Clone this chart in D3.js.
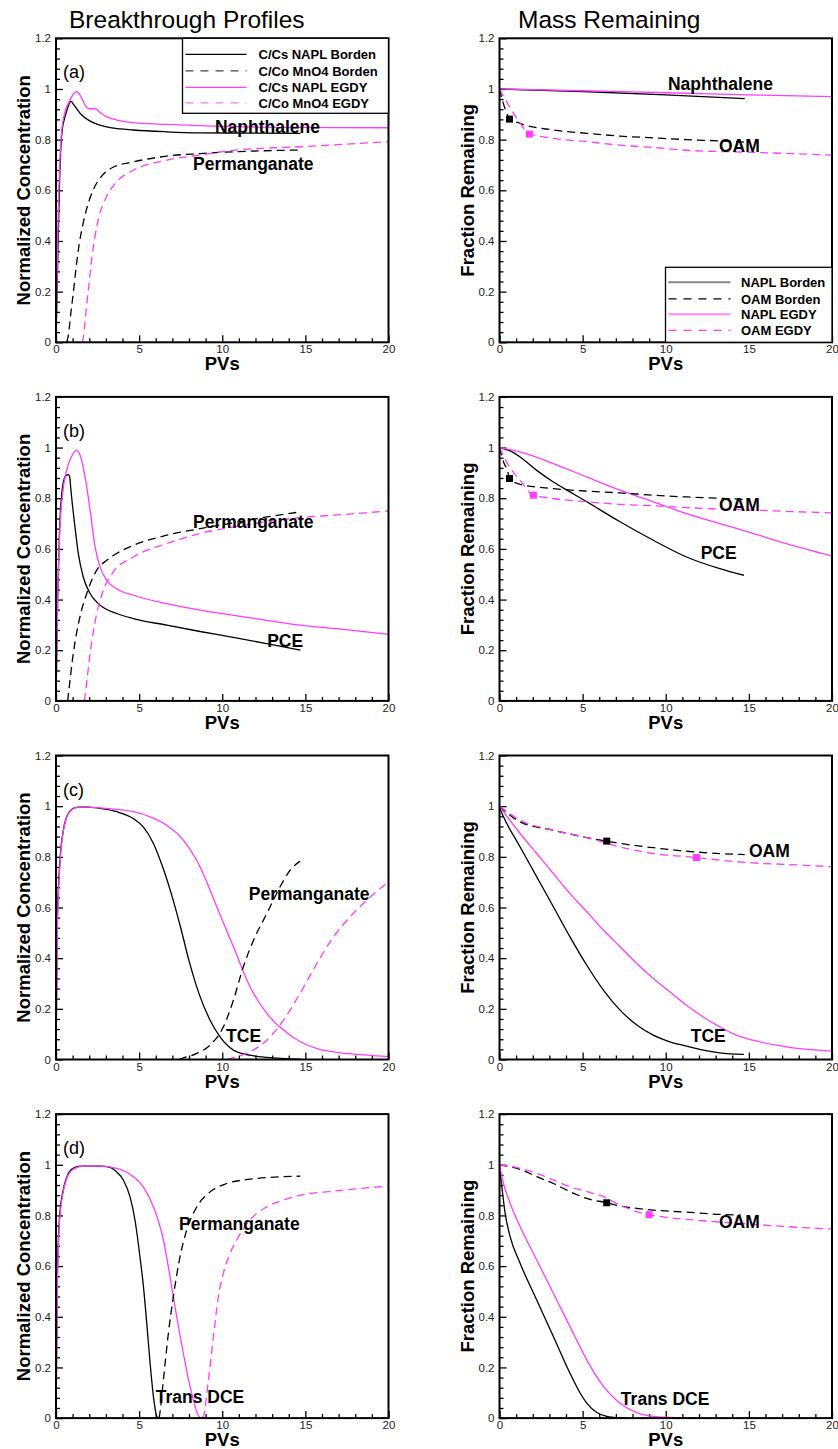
<!DOCTYPE html>
<html>
<head>
<meta charset="utf-8">
<script src="https://cdn.jsdelivr.net/npm/d3@7"></script>
<style>
body { margin: 0; background: #fff; }
svg { font-family: "Liberation Sans", Arial, sans-serif; }
</style>
</head>
<body>
<script>
// Tick values
var pvMajor = [0, 5, 10, 15, 20];
var yMajor = [0, 0.2, 0.4, 0.6, 0.8, 1, 1.2];

// Column titles and legend labels
var columnTitles = ["Breakthrough Profiles", "Mass Remaining"];
var panelLetters = ["(a)", "(b)", "(c)", "(d)"];
var legendBreak = ["C/Cs NAPL Borden", "C/Co MnO4 Borden", "C/Cs NAPL EGDY", "C/Co MnO4 EGDY"];
var legendMass = ["NAPL Borden", "OAM Borden", "NAPL EGDY", "OAM EGDY"];

// (a) Naphthalene - breakthrough [PV, C/C0]
var aNaplBorden = [[0,0],[0.1,0.3],[0.2,0.6],[0.3,0.78],[0.4,0.85],[0.5,0.88],[0.7,0.925],[0.9,0.951],[1.1,0.935],[1.5,0.9],[2,0.875],[2.65,0.857],[3.5,0.845],[4.65,0.838],[6.66,0.831],[8.67,0.827],[11,0.826],[14.7,0.825]];
var aNaplEgdy = [[0,0],[0.1,0.4],[0.3,0.8],[0.5,0.9],[0.8,0.95],[1.05,0.98],[1.24,0.989],[1.5,0.97],[1.8,0.93],[2.0,0.922],[2.35,0.922],[2.7,0.905],[3.05,0.89],[4.65,0.867],[6.66,0.86],[8.67,0.855],[10.67,0.851],[15,0.848],[20,0.847]];
var aOxBorden = [[0.65,0],[0.75,0.03],[0.9,0.12],[1.05,0.2],[1.2,0.29],[1.4,0.39],[1.6,0.46],[1.9,0.54],[2.3,0.61],[2.8,0.66],[3.4,0.69],[4.65,0.712],[6.66,0.735],[8.67,0.745],[10.67,0.752],[14.7,0.759]];
var aOxEgdy = [[1.6,0],[1.7,0.05],[1.85,0.15],[2.0,0.24],[2.15,0.33],[2.35,0.42],[2.6,0.5],[3.0,0.57],[3.6,0.63],[4.65,0.679],[6.66,0.719],[8.67,0.739],[10.67,0.758],[14.7,0.772],[20,0.792]];
// (a) mass remaining
var aMassNaplB = [[0,1],[5,0.99],[10,0.977],[14.75,0.962]];
var aMassNaplE = [[0,1],[5,0.993],[10,0.985],[15,0.977],[20,0.97]];
var aMassOamB = [[0,1],[0.2,0.95],[0.4,0.91],[0.6,0.884],[1.24,0.864],[3.24,0.838],[5.25,0.825],[7.25,0.814],[9.25,0.807],[11.25,0.8],[13.25,0.795],[14.75,0.79]];
var aMassOamE = [[0,1],[0.54,0.937],[1.04,0.884],[1.8,0.824],[3.24,0.805],[5.25,0.792],[7.25,0.778],[9.25,0.769],[11.25,0.758],[15.25,0.75],[20,0.739]];
var aMarks = [[0.6,0.881],[1.8,0.822]];

// (b) PCE
var bNaplBorden = [[0,0],[0.1,0.4],[0.2,0.65],[0.35,0.82],[0.55,0.885],[0.74,0.893],[0.82,0.885],[0.9,0.83],[1.14,0.687],[1.34,0.582],[1.64,0.489],[2.05,0.424],[2.65,0.378],[3.65,0.345],[4.65,0.325],[6.66,0.299],[8.67,0.274],[10.67,0.251],[12.68,0.226],[14.7,0.2]];
var bNaplEgdy = [[0,0],[0.1,0.4],[0.25,0.7],[0.4,0.82],[0.6,0.9],[0.9,0.96],[1.24,0.989],[1.5,0.96],[1.75,0.884],[2.05,0.753],[2.35,0.608],[2.65,0.529],[3.05,0.476],[3.65,0.443],[4.65,0.417],[6.66,0.384],[8.67,0.358],[10.67,0.338],[12.68,0.318],[14.7,0.299],[16.7,0.286],[20,0.263]];
var bOxBorden = [[0.7,0],[0.74,0.022],[1.04,0.187],[1.44,0.332],[1.85,0.424],[2.45,0.516],[3.05,0.555],[3.65,0.582],[4.65,0.614],[6.66,0.654],[8.67,0.68],[10.67,0.703],[12.68,0.726],[14.7,0.746]];
var bOxEgdy = [[1.7,0],[1.75,0.022],[2.05,0.187],[2.45,0.345],[2.85,0.437],[3.45,0.509],[4.65,0.568],[6.66,0.621],[8.67,0.661],[10.67,0.687],[12.68,0.707],[14.7,0.724],[16.7,0.733],[20,0.75]];
var bMassNaplB = [[0,1],[0.64,0.987],[1.24,0.963],[2.24,0.91],[3.24,0.864],[4.24,0.825],[5.25,0.786],[7.25,0.707],[9.25,0.634],[11.25,0.568],[13.25,0.522],[14.7,0.496]];
var bMassNaplE = [[0,1],[1.24,0.983],[3.24,0.937],[5.25,0.884],[7.25,0.832],[9.25,0.786],[11.25,0.739],[13.25,0.7],[15.25,0.661],[17.25,0.621],[20,0.572]];
var bMassOamB = [[0,1],[0.28,0.937],[0.48,0.91],[0.6,0.878],[1.24,0.855],[3.24,0.838],[5.25,0.828],[7.25,0.821],[9.25,0.812],[11.25,0.805],[13.25,0.8],[14.75,0.795]];
var bMassOamE = [[0,1],[0.54,0.93],[1.24,0.871],[2.04,0.812],[3.24,0.799],[5.25,0.786],[7.25,0.776],[9.25,0.77],[11.25,0.763],[15.25,0.753],[20,0.742]];
var bMarks = [[0.6,0.878],[2.04,0.812]];

// (c) TCE
var cNaplBorden = [[0,0],[0.08,0.55],[0.24,0.787],[0.44,0.905],[0.64,0.958],[0.94,0.987],[1.24,0.995],[1.64,0.997],[2.65,0.991],[3.65,0.978],[4.65,0.951],[5.25,0.918],[5.86,0.853],[6.46,0.752],[7.0,0.64],[7.5,0.52],[8.0,0.39],[8.6,0.26],[9.27,0.155],[9.87,0.089],[10.67,0.037],[11.67,0.017],[12.68,0.008],[14.7,0.001]];
var cNaplEgdy = [[0,0],[0.08,0.5],[0.24,0.77],[0.44,0.9],[0.64,0.955],[0.94,0.985],[1.24,0.995],[1.64,0.997],[2.65,0.993],[4.65,0.978],[5.66,0.958],[6.66,0.925],[7.66,0.866],[8.67,0.76],[9.67,0.603],[10.67,0.445],[11.67,0.287],[12.68,0.182],[13.68,0.116],[14.7,0.07],[15.7,0.043],[16.7,0.03],[18.7,0.017],[20,0.011]];
var cOxBorden = [[7.4,0],[7.56,0.004],[8.47,0.024],[9.27,0.057],[10.07,0.129],[10.67,0.234],[11.27,0.366],[11.88,0.471],[12.68,0.576],[13.48,0.682],[14.08,0.747],[14.68,0.783]];
var cOxEgdy = [[10.3,0],[10.47,0.004],[11.47,0.024],[12.68,0.076],[13.68,0.155],[14.68,0.261],[15.69,0.379],[16.69,0.484],[17.69,0.563],[18.7,0.629],[20,0.701]];
var cMassNaplB = [[0,0.995],[0.24,0.958],[1.24,0.839],[2.24,0.721],[3.24,0.603],[4.24,0.484],[5.25,0.372],[6.25,0.274],[7.25,0.195],[8.26,0.136],[9.25,0.096],[10.25,0.07],[11.25,0.053],[12.25,0.037],[13.25,0.026],[14.7,0.02]];
var cMassNaplE = [[0,1],[1.24,0.892],[2.24,0.813],[3.24,0.734],[4.24,0.655],[5.25,0.583],[6.25,0.511],[7.25,0.445],[8.26,0.379],[9.25,0.32],[10.25,0.267],[11.25,0.214],[12.25,0.168],[13.25,0.129],[14.25,0.096],[15.25,0.076],[17.25,0.05],[20,0.033]];
var cMassOamB = [[0,1],[1.24,0.938],[3.24,0.905],[5.25,0.876],[6.45,0.862],[7.25,0.853],[9.25,0.836],[11.25,0.822],[13.25,0.813],[14.75,0.809]];
var cMassOamE = [[0,1],[1.24,0.945],[3.24,0.905],[5.25,0.876],[7.25,0.839],[9.25,0.813],[11.85,0.797],[13.25,0.787],[15.25,0.776],[17.25,0.77],[20,0.761]];
var cMarks = [[6.45,0.862],[11.85,0.797]];

// (d) Trans DCE
var dNaplBorden = [[0,0],[0.08,0.55],[0.2,0.78],[0.4,0.89],[0.64,0.95],[1,0.985],[1.44,0.995],[2.65,0.995],[3.25,0.99],[3.65,0.972],[4.05,0.94],[4.45,0.874],[4.75,0.782],[5.05,0.637],[5.26,0.519],[5.46,0.374],[5.66,0.217],[5.86,0.085],[6.06,0.007],[6.12,0]];
var dNaplEgdy = [[0,0],[0.08,0.5],[0.2,0.76],[0.4,0.88],[0.64,0.945],[1,0.98],[1.64,0.995],[2.65,0.995],[3.65,0.986],[4.65,0.953],[5.25,0.913],[5.86,0.834],[6.46,0.703],[6.86,0.558],[7.26,0.4],[7.66,0.256],[8.06,0.125],[8.37,0.046],[8.57,0.009],[8.72,0]];
var dOxBorden = [[6.2,0],[6.22,0.007],[6.46,0.151],[6.76,0.335],[7.06,0.48],[7.46,0.637],[7.86,0.742],[8.47,0.834],[9.27,0.893],[10.27,0.926],[11.67,0.943],[13.68,0.953],[14.7,0.955]];
var dOxEgdy = [[8.8,0],[8.87,0.007],[9.17,0.151],[9.47,0.322],[9.77,0.48],[10.07,0.572],[10.47,0.65],[10.87,0.703],[11.67,0.782],[12.68,0.834],[13.68,0.861],[14.7,0.88],[16.7,0.896],[20,0.916]];
var dMassNaplB = [[0,0.992],[0.14,0.913],[0.34,0.808],[0.64,0.716],[1.24,0.611],[2.24,0.466],[3.24,0.322],[4.24,0.177],[4.85,0.099],[5.25,0.059],[5.85,0.022],[6.45,0.007],[7.25,0.001],[7.6,0]];
var dMassNaplE = [[0,1],[0.24,0.926],[0.64,0.848],[1.24,0.756],[2.24,0.624],[3.24,0.493],[4.24,0.361],[5.25,0.23],[6.25,0.125],[7.25,0.059],[8.26,0.022],[9.25,0.007],[10.25,0.003],[12.25,0]];
var dMassOamB = [[0,1],[1.24,0.982],[2.24,0.953],[3.24,0.926],[4.24,0.894],[5.25,0.867],[6.45,0.85],[7.25,0.837],[8.26,0.828],[9.25,0.821],[11.25,0.813],[13.25,0.804],[14.5,0.802]];
var dMassOamE = [[0,1],[1.24,0.986],[2.24,0.966],[3.24,0.94],[4.24,0.913],[5.25,0.894],[6.25,0.874],[7.25,0.841],[8.26,0.815],[9.0,0.803],[10.25,0.791],[12.25,0.779],[15.25,0.765],[17.25,0.756],[20,0.746]];
var dMarks = [[6.45,0.85],[9.0,0.803]];

// Layout
var width = 838, height = 1449;
var plotW = 332.5, plotH = 304;
var colLeft = [56, 499.5];
var rowTop = [38.3, 396.9, 755.5, 1114.1];
var black = "#000", pink = "#ff3cff";

var svg = d3.select("body")
    .append("svg")
    .attr("width", width)
    .attr("height", height);

// Column headers
svg.selectAll(".coltitle")
    .data(columnTitles)
    .enter()
    .append("text")
    .attr("x", function(d, i){ return [69, 518][i]; })
    .attr("y", 28)
    .style("font-size", "24.5px")
    .text(function(d){ return d; });

// Draw one panel
function drawPanel(col, row, lines, marks, notes, yTitle){
    var left = colLeft[col], top = rowTop[row];
    var x = d3.scaleLinear().domain([0, 20]).range([left, left + plotW]);
    var y = d3.scaleLinear().domain([0, 1.2]).range([top + plotH, top]);
    var g = svg.append("g");

    var clipId = "clip" + col + row;
    g.append("clipPath").attr("id", clipId)
        .append("rect")
        .attr("x", left).attr("y", top - 1)
        .attr("width", plotW).attr("height", plotH + 1);

    // minor ticks
    var xMinor = d3.range(0, 21, 1).filter(function(v){ return v % 5 !== 0; });
    var yMinor = d3.range(0, 1.2001, 0.04).filter(function(v){ return Math.abs(v / 0.2 - Math.round(v / 0.2)) > 0.01; });
    g.append("g")
        .attr("transform", "translate(0," + (top + plotH) + ")")
        .call(d3.axisBottom(x).tickValues(xMinor).tickSize(-4).tickFormat(""))
        .call(function(s){ s.select(".domain").remove(); });
    g.append("g")
        .attr("transform", "translate(" + left + ",0)")
        .call(d3.axisLeft(y).tickValues(yMinor).tickSize(-4).tickFormat(""))
        .call(function(s){ s.select(".domain").remove(); });

    // major ticks with labels
    var xAx = g.append("g")
        .attr("transform", "translate(0," + (top + plotH) + ")")
        .call(d3.axisBottom(x).tickValues(pvMajor).tickSize(-7).tickPadding(3).tickFormat(d3.format("d")));
    var yAx = g.append("g")
        .attr("transform", "translate(" + left + ",0)")
        .call(d3.axisLeft(y).tickValues(yMajor).tickSize(-7).tickPadding(5).tickFormat(d3.format("~g")));
    [xAx, yAx].forEach(function(a){
        a.select(".domain").remove();
        a.selectAll("text")
            .style("font-family", "'Liberation Sans', Arial, sans-serif")
            .style("font-size", "11.5px")
            .attr("fill", "#222");
    });
    g.selectAll(".tick line").attr("stroke", black).attr("stroke-width", 1.3);

    // curves
    var line = d3.line()
        .x(function(d){ return x(d[0]); })
        .y(function(d){ return y(d[1]); })
        .curve(d3.curveMonotoneX);
    var lg = g.append("g").attr("clip-path", "url(#" + clipId + ")");
    lines.forEach(function(s){
        lg.append("path")
            .datum(s.data)
            .attr("fill", "none")
            .attr("stroke", s.color)
            .attr("stroke-width", 1.3)
            .attr("stroke-dasharray", s.dash ? "8,5" : null)
            .attr("d", line);
    });

    // square markers
    if (marks) {
        lg.selectAll(".mark")
            .data(marks)
            .enter()
            .append("rect")
            .attr("x", function(d){ return x(d[0]) - 3.5; })
            .attr("y", function(d){ return y(d[1]) - 3.5; })
            .attr("width", 7).attr("height", 7)
            .attr("fill", function(d, i){ return i === 0 ? black : pink; });
    }

    // curve labels
    notes.forEach(function(n){
        g.append("text")
            .attr("x", x(n[1]))
            .attr("y", y(n[2]))
            .style("font-size", "17.5px")
            .style("font-weight", "bold")
            .text(n[0]);
    });

    // frame
    g.append("rect")
        .attr("x", left).attr("y", top)
        .attr("width", plotW).attr("height", plotH)
        .attr("fill", "none")
        .attr("stroke", black)
        .attr("stroke-width", 2);

    // axis titles
    g.append("text")
        .attr("x", left + plotW / 2)
        .attr("y", top + plotH + 28)
        .attr("text-anchor", "middle")
        .style("font-size", "18.5px")
        .style("font-weight", "bold")
        .text("PVs");
    g.append("text")
        .attr("transform", "translate(" + (left - 26) + "," + (top + plotH / 2) + ") rotate(-90)")
        .attr("text-anchor", "middle")
        .style("font-size", "18.5px")
        .style("font-weight", "bold")
        .text(yTitle);

    return g;
}

function legend(g, bx, by, w, labels, items, lineX0, lineX1, textX, rowY){
    g.append("rect")
        .attr("x", bx).attr("y", by)
        .attr("width", w).attr("height", 75)
        .attr("fill", "#fff")
        .attr("stroke", black)
        .attr("stroke-width", 1.3);
    labels.forEach(function(t, i){
        g.append("line")
            .attr("x1", bx + lineX0).attr("x2", bx + lineX1)
            .attr("y1", by + rowY[i]).attr("y2", by + rowY[i])
            .attr("stroke", items[i].color)
            .attr("stroke-width", items[i].w)
            .attr("stroke-dasharray", items[i].dash ? "8,7" : null);
        g.append("text")
            .attr("x", bx + textX)
            .attr("y", by + rowY[i] + 4.7)
            .style("font-size", "13px")
            .style("font-weight", "bold")
            .text(t);
    });
}

var breakSets = [
    [aNaplBorden, aNaplEgdy, aOxBorden, aOxEgdy],
    [bNaplBorden, bNaplEgdy, bOxBorden, bOxEgdy],
    [cNaplBorden, cNaplEgdy, cOxBorden, cOxEgdy],
    [dNaplBorden, dNaplEgdy, dOxBorden, dOxEgdy]
];
var massSets = [
    [aMassNaplB, aMassNaplE, aMassOamB, aMassOamE],
    [bMassNaplB, bMassNaplE, bMassOamB, bMassOamE],
    [cMassNaplB, cMassNaplE, cMassOamB, cMassOamE],
    [dMassNaplB, dMassNaplE, dMassOamB, dMassOamE]
];
var markSets = [aMarks, bMarks, cMarks, dMarks];

// label text, x (PV), y (value) at baseline
var breakNotes = [
    [["Naphthalene", 9.56, 0.826], ["Permanganate", 8.24, 0.679]],
    [["Permanganate", 8.24, 0.682], ["PCE", 12.7, 0.212]],
    [["Permanganate", 11.6, 0.629], ["TCE", 10.23, 0.068]],
    [["Permanganate", 7.4, 0.743], ["Trans DCE", 6.0, 0.06]]
];
var massNotes = [
    [["Naphthalene", 10.13, 0.995], ["OAM", 13.2, 0.75]],
    [["OAM", 13.2, 0.749], ["PCE", 12.1, 0.559]],
    [["OAM", 15.0, 0.799], ["TCE", 11.5, 0.068]],
    [["OAM", 13.2, 0.751], ["Trans DCE", 7.3, 0.052]]
];

function styled(set){
    return [
        {data: set[0], color: black, dash: false},
        {data: set[1], color: pink, dash: false},
        {data: set[2], color: black, dash: true},
        {data: set[3], color: pink, dash: true}
    ];
}

for (var r = 0; r < 4; r++) {
    var gl = drawPanel(0, r, styled(breakSets[r]), null, breakNotes[r], "Normalized Concentration");
    gl.append("text")
        .attr("x", colLeft[0] + 7)
        .attr("y", rowTop[r] + 40)
        .style("font-size", "18px")
        .text(panelLetters[r]);
    var gr = drawPanel(1, r, styled(massSets[r]), markSets[r], massNotes[r], "Fraction Remaining");
    if (r === 0) {
        legend(gl, colLeft[0] + 126.5, rowTop[0], 206, legendBreak,
            [{color: black, w: 1.3}, {color: "#444", w: 1.3, dash: true}, {color: pink, w: 1.3}, {color: "#ff77ff", w: 1.3, dash: true}],
            3, 64, 76, [16, 32.5, 49, 64.5]);
        legend(gr, colLeft[1] + 166, rowTop[0] + 229, 166.5, legendMass,
            [{color: "#888", w: 2}, {color: black, w: 1.3, dash: true}, {color: "#ff88ff", w: 2}, {color: pink, w: 1.3, dash: true}],
            3, 65, 75.5, [15, 31.5, 47, 63]);
    }
}
</script>
</body>
</html>
